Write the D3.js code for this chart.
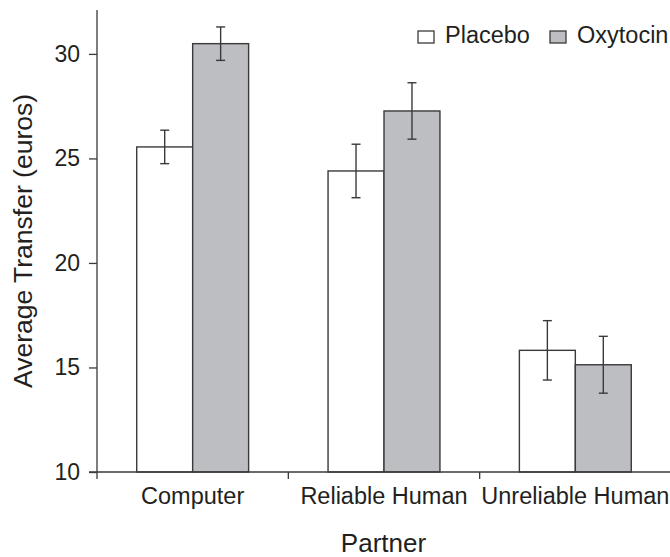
<!DOCTYPE html>
<html>
<head>
    <script src="https://cdn.jsdelivr.net/npm/d3@7"></script>
    <style>
        body { margin: 0; background: #fff; }
        #chart { width: 670px; height: 557px; display: block; }
        text { font-family: "Liberation Sans", Arial, sans-serif; fill: #231f20; }
    </style>
</head>
<body>

<svg id="chart"></svg>

<script>
    const categories = ["Computer", "Reliable Human", "Unreliable Human"];
    const series = ["Placebo", "Oxytocin"];
    const placebo = [25.55, 24.4, 15.82];
    const oxytocin = [30.49, 27.27, 15.13];
    const placeboErr = [0.8, 1.28, 1.42];
    const oxytocinErr = [0.8, 1.35, 1.36];
    const yTicks = [10, 15, 20, 25, 30];

    const width = 670, height = 557;
    const plotLeft = 97, plotRight = 671, plotTop = 10, plotBottom = 472;
    const ink = "#3a3a3a";
    const colors = { Placebo: "#ffffff", Oxytocin: "#bdbec2" };

    const svg = d3.select("#chart");

    const y = d3.scaleLinear().domain([10, 32.1]).range([plotBottom, plotTop]);
    const x0 = d3.scaleBand().domain(categories).range([plotLeft, plotRight]);
    const x1 = d3.scaleBand().domain(series).range([0, x0.bandwidth()]).paddingOuter(0.71);

    const rows = categories.map((c, i) => ({
        cat: c,
        vals: [
            { s: "Placebo", v: placebo[i], e: placeboErr[i] },
            { s: "Oxytocin", v: oxytocin[i], e: oxytocinErr[i] }
        ]
    }));

    // bars
    const groups = svg.append("g").selectAll("g")
        .data(rows)
        .join("g")
        .attr("transform", d => `translate(${x0(d.cat)},0)`);

    groups.selectAll("rect")
        .data(d => d.vals)
        .join("rect")
        .attr("x", d => x1(d.s))
        .attr("y", d => y(d.v))
        .attr("width", x1.bandwidth())
        .attr("height", d => y(10) - y(d.v))
        .attr("fill", d => colors[d.s])
        .attr("stroke", ink)
        .attr("stroke-width", 1.4);

    // error bars
    const eb = groups.selectAll("g.err")
        .data(d => d.vals)
        .join("g")
        .attr("class", "err")
        .attr("stroke", ink)
        .attr("stroke-width", 1.4);
    const cx = d => x1(d.s) + x1.bandwidth() / 2;
    eb.append("line")
        .attr("x1", cx).attr("x2", cx)
        .attr("y1", d => y(d.v + d.e)).attr("y2", d => y(d.v - d.e));
    eb.append("line")
        .attr("x1", d => cx(d) - 4.5).attr("x2", d => cx(d) + 4.5)
        .attr("y1", d => y(d.v + d.e)).attr("y2", d => y(d.v + d.e));
    eb.append("line")
        .attr("x1", d => cx(d) - 4.5).attr("x2", d => cx(d) + 4.5)
        .attr("y1", d => y(d.v - d.e)).attr("y2", d => y(d.v - d.e));

    // y axis
    const yAxis = svg.append("g")
        .attr("transform", `translate(${plotLeft},0)`)
        .call(d3.axisLeft(y).tickValues(yTicks).tickSize(8).tickPadding(9));
    yAxis.select(".domain").attr("d", `M0,${plotTop}V${plotBottom}`);
    yAxis.selectAll("line, path").attr("stroke", ink).attr("stroke-width", 1.3);
    yAxis.selectAll("text")
        .attr("font-size", 23)
        .style("font-family", '"Liberation Sans", Arial, sans-serif')
        .attr("fill", "#231f20");

    // x axis
    svg.append("line")
        .attr("x1", plotLeft - 8).attr("x2", width)
        .attr("y1", plotBottom).attr("y2", plotBottom)
        .attr("stroke", ink).attr("stroke-width", 1.3);
    svg.append("g").selectAll("line")
        .data(categories)
        .join("line")
        .attr("x1", d => x0(d)).attr("x2", d => x0(d))
        .attr("y1", plotBottom).attr("y2", plotBottom + 7)
        .attr("stroke", ink).attr("stroke-width", 1.3);
    svg.append("g").selectAll("text")
        .data(categories)
        .join("text")
        .attr("x", d => x0(d) + x0.bandwidth() / 2)
        .attr("y", 504)
        .attr("text-anchor", "middle")
        .attr("font-size", 23.5)
        .text(d => d);

    // axis titles
    svg.append("text")
        .attr("transform", `translate(32,${(plotTop + plotBottom) / 2}) rotate(-90)`)
        .attr("text-anchor", "middle")
        .attr("font-size", 26.5)
        .text("Average Transfer (euros)");
    svg.append("text")
        .attr("x", (plotLeft + width) / 2)
        .attr("y", 552)
        .attr("text-anchor", "middle")
        .attr("font-size", 26)
        .text("Partner");

    // legend
    const legendX = [418, 550];
    const legend = svg.append("g").selectAll("g")
        .data(series)
        .join("g")
        .attr("transform", (d, i) => `translate(${legendX[i]},31)`);
    legend.append("rect")
        .attr("width", 16).attr("height", 12)
        .attr("fill", d => colors[d])
        .attr("stroke", ink).attr("stroke-width", 1.3);
    legend.append("text")
        .attr("x", 27).attr("y", 12)
        .attr("font-size", 23.5)
        .text(d => d);
</script>
</body>
</html>
